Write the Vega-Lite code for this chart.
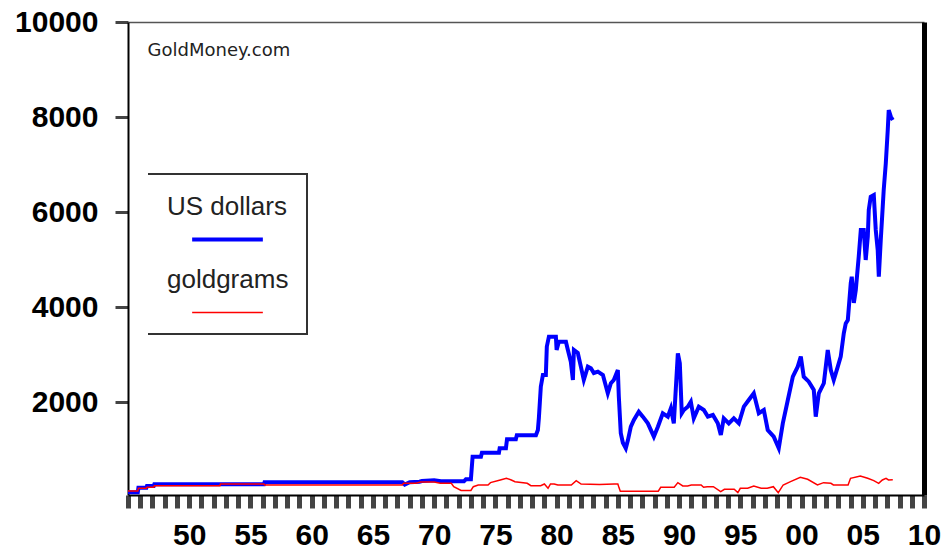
{
  "$schema": "https://vega.github.io/schema/vega-lite/v6.json",
  "width": 796,
  "height": 473,
  "autosize": {"type": "none"},
  "padding": {"left": 128, "top": 22, "right": 19, "bottom": 55},
  "background": "#ffffff",
  "config": {"view": {"stroke": null}},
  "layer": [
    {
      "data": {
        "values": [
          {"s":"US dollars","year":1945.0,"value":110},{"s":"US dollars","year":1945.8,"value":110},{"s":"US dollars","year":1945.85,"value":200},{"s":"US dollars","year":1946.5,"value":200},{"s":"US dollars","year":1946.55,"value":240},{"s":"US dollars","year":1947.1,"value":240},{"s":"US dollars","year":1947.15,"value":275},{"s":"US dollars","year":1956.1,"value":275},{"s":"US dollars","year":1956.15,"value":318},{"s":"US dollars","year":1967.4,"value":318},{"s":"US dollars","year":1967.6,"value":270},{"s":"US dollars","year":1968.0,"value":318},{"s":"US dollars","year":1968.8,"value":330},{"s":"US dollars","year":1969.0,"value":345},{"s":"US dollars","year":1970.0,"value":360},{"s":"US dollars","year":1970.55,"value":338},{"s":"US dollars","year":1972.43,"value":338},{"s":"US dollars","year":1972.59,"value":380},{"s":"US dollars","year":1973.0,"value":380},{"s":"US dollars","year":1973.14,"value":856},{"s":"US dollars","year":1973.82,"value":856},{"s":"US dollars","year":1973.9,"value":940},{"s":"US dollars","year":1975.29,"value":940},{"s":"US dollars","year":1975.35,"value":1032},{"s":"US dollars","year":1975.86,"value":1032},{"s":"US dollars","year":1975.95,"value":1222},{"s":"US dollars","year":1976.67,"value":1222},{"s":"US dollars","year":1976.75,"value":1306},{"s":"US dollars","year":1978.31,"value":1306},{"s":"US dollars","year":1978.47,"value":1418},{"s":"US dollars","year":1978.55,"value":1664},{"s":"US dollars","year":1978.71,"value":2329},{"s":"US dollars","year":1978.88,"value":2575},{"s":"US dollars","year":1979.12,"value":2575},{"s":"US dollars","year":1979.2,"value":3170},{"s":"US dollars","year":1979.37,"value":3380},{"s":"US dollars","year":1979.94,"value":3380},{"s":"US dollars","year":1980.0,"value":3100},{"s":"US dollars","year":1980.18,"value":3275},{"s":"US dollars","year":1980.76,"value":3275},{"s":"US dollars","year":1980.92,"value":3100},{"s":"US dollars","year":1981.16,"value":2854},{"s":"US dollars","year":1981.33,"value":2470},{"s":"US dollars","year":1981.41,"value":3100},{"s":"US dollars","year":1981.73,"value":3037},{"s":"US dollars","year":1981.98,"value":2750},{"s":"US dollars","year":1982.22,"value":2470},{"s":"US dollars","year":1982.55,"value":2750},{"s":"US dollars","year":1982.8,"value":2716},{"s":"US dollars","year":1983.04,"value":2616},{"s":"US dollars","year":1983.37,"value":2644},{"s":"US dollars","year":1983.78,"value":2575},{"s":"US dollars","year":1984.18,"value":2190},{"s":"US dollars","year":1984.43,"value":2400},{"s":"US dollars","year":1984.67,"value":2470},{"s":"US dollars","year":1985.0,"value":2680},{"s":"US dollars","year":1985.08,"value":2118},{"s":"US dollars","year":1985.24,"value":1348},{"s":"US dollars","year":1985.41,"value":1150},{"s":"US dollars","year":1985.65,"value":1032},{"s":"US dollars","year":1985.82,"value":1200},{"s":"US dollars","year":1986.06,"value":1487},{"s":"US dollars","year":1986.31,"value":1628},{"s":"US dollars","year":1986.71,"value":1803},{"s":"US dollars","year":1987.04,"value":1698},{"s":"US dollars","year":1987.45,"value":1558},{"s":"US dollars","year":1987.94,"value":1277},{"s":"US dollars","year":1988.27,"value":1487},{"s":"US dollars","year":1988.67,"value":1769},{"s":"US dollars","year":1989.08,"value":1698},{"s":"US dollars","year":1989.33,"value":1874},{"s":"US dollars","year":1989.57,"value":1558},{"s":"US dollars","year":1989.9,"value":3031},{"s":"US dollars","year":1990.06,"value":2820},{"s":"US dollars","year":1990.22,"value":1769},{"s":"US dollars","year":1990.39,"value":1838},{"s":"US dollars","year":1990.71,"value":1908},{"s":"US dollars","year":1990.96,"value":2013},{"s":"US dollars","year":1991.2,"value":1664},{"s":"US dollars","year":1991.61,"value":1908},{"s":"US dollars","year":1992.02,"value":1838},{"s":"US dollars","year":1992.35,"value":1698},{"s":"US dollars","year":1992.76,"value":1733},{"s":"US dollars","year":1993.16,"value":1558},{"s":"US dollars","year":1993.41,"value":1312},{"s":"US dollars","year":1993.65,"value":1664},{"s":"US dollars","year":1994.06,"value":1558},{"s":"US dollars","year":1994.47,"value":1664},{"s":"US dollars","year":1994.88,"value":1558},{"s":"US dollars","year":1995.29,"value":1908},{"s":"US dollars","year":1995.69,"value":2048},{"s":"US dollars","year":1996.1,"value":2190},{"s":"US dollars","year":1996.51,"value":1769},{"s":"US dollars","year":1996.92,"value":1838},{"s":"US dollars","year":1997.24,"value":1418},{"s":"US dollars","year":1997.73,"value":1277},{"s":"US dollars","year":1998.14,"value":1033},{"s":"US dollars","year":1998.47,"value":1558},{"s":"US dollars","year":1998.88,"value":2048},{"s":"US dollars","year":1999.29,"value":2539},{"s":"US dollars","year":1999.69,"value":2750},{"s":"US dollars","year":1999.94,"value":2960},{"s":"US dollars","year":2000.18,"value":2539},{"s":"US dollars","year":2000.59,"value":2434},{"s":"US dollars","year":2001.0,"value":2259},{"s":"US dollars","year":2001.16,"value":1698},{"s":"US dollars","year":2001.41,"value":2190},{"s":"US dollars","year":2001.82,"value":2400},{"s":"US dollars","year":2002.14,"value":3100},{"s":"US dollars","year":2002.39,"value":2680},{"s":"US dollars","year":2002.63,"value":2470},{"s":"US dollars","year":2002.96,"value":2750},{"s":"US dollars","year":2003.2,"value":2960},{"s":"US dollars","year":2003.45,"value":3452},{"s":"US dollars","year":2003.61,"value":3660},{"s":"US dollars","year":2003.78,"value":3731},{"s":"US dollars","year":2004.02,"value":4510},{"s":"US dollars","year":2004.1,"value":4642},{"s":"US dollars","year":2004.27,"value":4090},{"s":"US dollars","year":2004.43,"value":4362},{"s":"US dollars","year":2004.67,"value":5063},{"s":"US dollars","year":2004.84,"value":5625},{"s":"US dollars","year":2005.08,"value":5625},{"s":"US dollars","year":2005.24,"value":4994},{"s":"US dollars","year":2005.41,"value":5484},{"s":"US dollars","year":2005.49,"value":6045},{"s":"US dollars","year":2005.65,"value":6325},{"s":"US dollars","year":2005.9,"value":6361},{"s":"US dollars","year":2006.06,"value":5625},{"s":"US dollars","year":2006.22,"value":5204},{"s":"US dollars","year":2006.31,"value":4642},{"s":"US dollars","year":2006.47,"value":5414},{"s":"US dollars","year":2006.63,"value":6115},{"s":"US dollars","year":2006.71,"value":6466},{"s":"US dollars","year":2006.88,"value":7028},{"s":"US dollars","year":2007.04,"value":7728},{"s":"US dollars","year":2007.12,"value":8149},{"s":"US dollars","year":2007.29,"value":8008},{"s":"US dollars","year":2007.45,"value":7938},
          {"s":"goldgrams","year":1945.0,"value":135},{"s":"goldgrams","year":1945.8,"value":135},{"s":"goldgrams","year":1945.85,"value":191},{"s":"goldgrams","year":1946.5,"value":191},{"s":"goldgrams","year":1946.55,"value":212},{"s":"goldgrams","year":1947.1,"value":212},{"s":"goldgrams","year":1947.15,"value":245},{"s":"goldgrams","year":1952.5,"value":245},{"s":"goldgrams","year":1952.55,"value":282},{"s":"goldgrams","year":1956.1,"value":282},{"s":"goldgrams","year":1956.15,"value":261},{"s":"goldgrams","year":1967.4,"value":261},{"s":"goldgrams","year":1967.5,"value":296},{"s":"goldgrams","year":1968.5,"value":296},{"s":"goldgrams","year":1968.9,"value":324},{"s":"goldgrams","year":1970.0,"value":324},{"s":"goldgrams","year":1970.5,"value":296},{"s":"goldgrams","year":1971.4,"value":296},{"s":"goldgrams","year":1971.6,"value":225},{"s":"goldgrams","year":1972.2,"value":145},{"s":"goldgrams","year":1973.0,"value":145},{"s":"goldgrams","year":1973.2,"value":225},{"s":"goldgrams","year":1973.6,"value":261},{"s":"goldgrams","year":1974.4,"value":261},{"s":"goldgrams","year":1974.6,"value":310},{"s":"goldgrams","year":1975.4,"value":366},{"s":"goldgrams","year":1975.9,"value":402},{"s":"goldgrams","year":1976.3,"value":366},{"s":"goldgrams","year":1976.6,"value":330},{"s":"goldgrams","year":1977.6,"value":296},{"s":"goldgrams","year":1977.9,"value":246},{"s":"goldgrams","year":1978.7,"value":246},{"s":"goldgrams","year":1979.0,"value":282},{"s":"goldgrams","year":1979.3,"value":191},{"s":"goldgrams","year":1979.5,"value":282},{"s":"goldgrams","year":1979.8,"value":282},{"s":"goldgrams","year":1980.1,"value":261},{"s":"goldgrams","year":1981.2,"value":261},{"s":"goldgrams","year":1981.6,"value":352},{"s":"goldgrams","year":1982.0,"value":280},{"s":"goldgrams","year":1983.5,"value":270},{"s":"goldgrams","year":1984.7,"value":280},{"s":"goldgrams","year":1985.0,"value":280},{"s":"goldgrams","year":1985.1,"value":200},{"s":"goldgrams","year":1985.2,"value":130},{"s":"goldgrams","year":1988.3,"value":130},{"s":"goldgrams","year":1988.5,"value":212},{"s":"goldgrams","year":1989.6,"value":212},{"s":"goldgrams","year":1989.9,"value":310},{"s":"goldgrams","year":1990.3,"value":240},{"s":"goldgrams","year":1990.7,"value":240},{"s":"goldgrams","year":1991.0,"value":261},{"s":"goldgrams","year":1991.8,"value":261},{"s":"goldgrams","year":1992.0,"value":212},{"s":"goldgrams","year":1992.3,"value":225},{"s":"goldgrams","year":1992.8,"value":225},{"s":"goldgrams","year":1993.4,"value":120},{"s":"goldgrams","year":1993.7,"value":170},{"s":"goldgrams","year":1994.5,"value":170},{"s":"goldgrams","year":1994.8,"value":99},{"s":"goldgrams","year":1995.0,"value":191},{"s":"goldgrams","year":1995.6,"value":191},{"s":"goldgrams","year":1996.1,"value":240},{"s":"goldgrams","year":1996.7,"value":191},{"s":"goldgrams","year":1997.2,"value":191},{"s":"goldgrams","year":1997.7,"value":225},{"s":"goldgrams","year":1998.1,"value":99},{"s":"goldgrams","year":1998.5,"value":261},{"s":"goldgrams","year":1999.1,"value":330},{"s":"goldgrams","year":1999.9,"value":423},{"s":"goldgrams","year":2000.5,"value":380},{"s":"goldgrams","year":2001.3,"value":261},{"s":"goldgrams","year":2001.8,"value":310},{"s":"goldgrams","year":2002.4,"value":296},{"s":"goldgrams","year":2002.6,"value":261},{"s":"goldgrams","year":2003.8,"value":261},{"s":"goldgrams","year":2004.0,"value":402},{"s":"goldgrams","year":2004.8,"value":450},{"s":"goldgrams","year":2005.4,"value":402},{"s":"goldgrams","year":2005.9,"value":352},{"s":"goldgrams","year":2006.3,"value":296},{"s":"goldgrams","year":2006.6,"value":366},{"s":"goldgrams","year":2006.9,"value":402},{"s":"goldgrams","year":2007.1,"value":366},{"s":"goldgrams","year":2007.45,"value":370}
        ]
      },
      "mark": {"type": "line", "clip": true, "strokeJoin": "miter", "strokeCap": "butt"},
      "encoding": {
        "x": {
          "field": "year", "type": "quantitative",
          "scale": {"domain": [1945, 2010], "nice": false, "zero": false},
          "axis": {
            "orient": "bottom", "title": null, "grid": false,
            "values": [1945,1946,1947,1948,1949,1950,1951,1952,1953,1954,1955,1956,1957,1958,1959,1960,1961,1962,1963,1964,1965,1966,1967,1968,1969,1970,1971,1972,1973,1974,1975,1976,1977,1978,1979,1980,1981,1982,1983,1984,1985,1986,1987,1988,1989,1990,1991,1992,1993,1994,1995,1996,1997,1998,1999,2000,2001,2002,2003,2004,2005,2006,2007,2008,2009,2010],
            "labelExpr": "(datum.value % 5 == 0 && datum.value > 1945) ? substring(toString(datum.value), 2, 4) : ''",
            "labelFont": "Liberation Sans", "labelFontSize": 30, "labelFontWeight": "bold", "labelColor": "#000",
            "labelPadding": 12, "labelFlush": false, "labelOverlap": false, "labelBound": false,
            "tickSize": 13, "tickWidth": 5, "tickColor": "#444",
            "domainColor": "#000", "domainWidth": 2
          }
        },
        "y": {
          "field": "value", "type": "quantitative",
          "scale": {"domain": [50, 10000], "nice": false, "zero": false},
          "axis": {
            "orient": "left", "title": null, "grid": false,
            "values": [2000, 4000, 6000, 8000, 10000], "format": "d",
            "labelFont": "Liberation Sans", "labelFontSize": 30, "labelFontWeight": "bold", "labelColor": "#000",
            "labelPadding": 17,
            "tickSize": 13, "tickWidth": 3, "tickColor": "#444",
            "domainColor": "#000", "domainWidth": 2
          }
        },
        "color": {
          "field": "s", "type": "nominal", "sort": null,
          "scale": {"domain": ["US dollars", "goldgrams"], "range": ["#0000ff", "#ff0000"]},
          "legend": {
            "title": " ", "titleFontSize": 1, "titlePadding": 9, "orient": "none", "legendX": 20, "legendY": 152,
            "symbolType": "stroke", "symbolSize": 5000, "symbolOffset": 24,
            "labelFont": "Liberation Sans", "labelFontSize": 26, "labelColor": "#222",
            "labelAlign": "left", "labelOffset": -98, "labelBaseline": "middle",
            "strokeColor": "#333", "padding": 18, "rowPadding": 18,
            "encoding": {
              "labels": {"dy": {"value": -33}},
              "legend": {"stroke": {"value": "#333"}, "strokeWidth": {"value": 2}, "strokeDash": {"value": [478, 200]}}
            }
          }
        },
        "strokeWidth": {
          "field": "s", "type": "nominal", "sort": null,
          "scale": {"type": "ordinal", "domain": ["US dollars", "goldgrams"], "range": [4, 1.5]},
          "legend": {
            "title": " ", "titleFontSize": 1, "titlePadding": 9, "orient": "none", "legendX": 20, "legendY": 152,
            "symbolType": "stroke", "symbolSize": 5000, "symbolOffset": 24,
            "labelFont": "Liberation Sans", "labelFontSize": 26, "labelColor": "#222",
            "labelAlign": "left", "labelOffset": -98, "labelBaseline": "middle",
            "strokeColor": "#333", "padding": 18, "rowPadding": 18,
            "encoding": {
              "labels": {"dy": {"value": -33}},
              "legend": {"stroke": {"value": "#333"}, "strokeWidth": {"value": 2}, "strokeDash": {"value": [478, 200]}}
            }
          }
        }
      }
    },
    {
      "data": {"values": [{}]},
      "mark": {"type": "text", "text": "GoldMoney.com", "align": "left", "baseline": "middle", "font": "DejaVu Sans", "fontSize": 18, "color": "#222"},
      "encoding": {
        "x": {"datum": 1946.6, "type": "quantitative", "scale": {"domain": [1945, 2010], "nice": false, "zero": false},
              "axis": {"orient": "top", "title": null, "labels": false, "ticks": false, "grid": false, "domainColor": "#555", "domainWidth": 1.5}},
        "y": {"datum": 9400, "type": "quantitative", "scale": {"domain": [50, 10000], "nice": false, "zero": false},
              "axis": {"orient": "right", "title": null, "labels": false, "ticks": false, "grid": false, "domainColor": "#000", "domainWidth": 5}}
      }
    }
  ],
  "resolve": {"axis": {"x": "independent", "y": "independent"}}
}
